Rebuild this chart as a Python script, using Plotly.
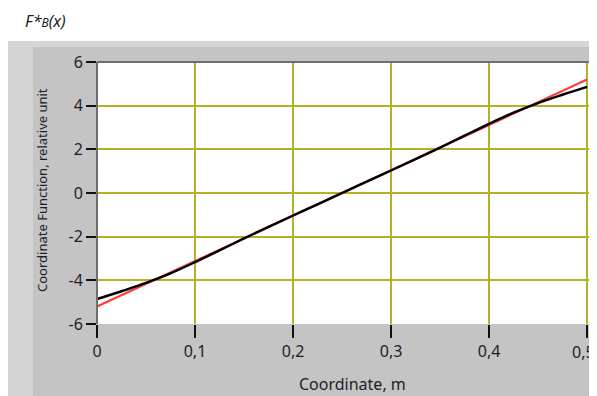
import plotly.graph_objects as go

# Data
x_vals = [0, 0.025, 0.05, 0.075, 0.1, 0.125, 0.15, 0.175, 0.2, 0.225, 0.25,
          0.275, 0.3, 0.325, 0.35, 0.375, 0.4, 0.425, 0.45, 0.475, 0.5]
red_vals = [-5.2, -4.68, -4.16, -3.64, -3.12, -2.6, -2.08, -1.56, -1.04, -0.52, 0,
            0.52, 1.04, 1.56, 2.08, 2.6, 3.12, 3.64, 4.16, 4.68, 5.2]
black_vals = [-4.86, -4.50, -4.12, -3.68, -3.17, -2.63, -2.08, -1.55, -1.03, -0.52, 0,
              0.52, 1.03, 1.55, 2.08, 2.63, 3.17, 3.68, 4.12, 4.50, 4.86]
x_tickvals = [0, 0.1, 0.2, 0.3, 0.4, 0.5]
x_ticktext = ["0", "0,1", "0,2", "0,3", "0,4", "0,5"]
y_tickvals = [-6, -4, -2, 0, 2, 4, 6]
y_ticktext = ["-6", "-4", "-2", "0", "2", "4", "6"]

# page body has an 8px default margin, so work in shifted pixel coords
OFF = 8
W, H = 597 - OFF, 396 - OFF
L, R, T, B = 97 - OFF, 590 - OFF, 62 - OFF, 324 - OFF
pw, ph = R - L, B - T


def xp(px):
    return (px - OFF - L) / pw


def yp(py):
    return (B - (py - OFF)) / ph


FONT = "Segoe UI, Noto Sans, Open Sans, sans-serif"
TXT = "#1c1c2c"
GRID = "rgb(178,178,36)"

fig = go.Figure()
fig.add_trace(go.Scatter(x=x_vals, y=red_vals, mode="lines",
                         line=dict(color="#ff3b3b", width=2.2), showlegend=False))
fig.add_trace(go.Scatter(x=x_vals, y=black_vals, mode="lines", line_shape="spline",
                         line=dict(color="#000000", width=2.4), showlegend=False))

shapes = [
    dict(type="rect", xref="paper", yref="paper", x0=xp(8), x1=xp(610), y0=yp(410), y1=yp(41),
         fillcolor="#c4c4c4", line=dict(width=0), layer="below"),
    dict(type="rect", xref="paper", yref="paper", x0=xp(8), x1=xp(33), y0=yp(410), y1=yp(41),
         fillcolor="#d4d4d4", line=dict(width=0), layer="below"),
    dict(type="rect", xref="paper", yref="paper", x0=xp(8), x1=xp(610), y0=yp(47), y1=yp(41),
         fillcolor="#d6d6d6", line=dict(width=0), layer="below"),
    dict(type="rect", xref="paper", yref="paper", x0=xp(591), x1=xp(610), y0=yp(410), y1=yp(47),
         fillcolor="#b4b4b4", line=dict(width=0), layer="below"),
    dict(type="rect", xref="paper", yref="paper", x0=0, x1=1, y0=0, y1=1,
         fillcolor="#ffffff", line=dict(width=0), layer="below"),
    dict(type="line", xref="paper", yref="paper", x0=0, x1=0, y0=0, y1=1,
         line=dict(color="#6e6e6e", width=2)),
    dict(type="line", xref="paper", yref="paper", x0=0, x1=1, y0=1, y1=1,
         line=dict(color="#6e6e6e", width=2)),
]

annotations = [
    dict(text="<i>F*<span style='font-size:12px'>B</span>(x)</i>", xref="paper", yref="paper",
         x=xp(23), y=yp(21), xanchor="left", yanchor="middle", showarrow=False,
         font=dict(family=FONT, size=16, color=TXT)),
    dict(text="Coordinate Function, relative unit", xref="paper", yref="paper",
         x=xp(42), y=yp(190), xanchor="center", yanchor="middle", textangle=-90, showarrow=False,
         font=dict(family=FONT, size=13, color=TXT)),
    dict(text="Coordinate, m", xref="paper", yref="paper",
         x=xp(352), y=yp(384), xanchor="center", yanchor="middle", showarrow=False,
         font=dict(family=FONT, size=16, color=TXT)),
    # last x tick label, kept inside the page edge
    dict(text=x_ticktext[-1], xref="paper", yref="paper",
         x=xp(597), y=yp(352), xanchor="right", yanchor="middle", showarrow=False,
         font=dict(family=FONT, size=16, color=TXT)),
]

fig.update_layout(
    width=W, height=H,
    margin=dict(l=L, r=W - R, t=T, b=H - B, pad=0),
    paper_bgcolor="#ffffff", plot_bgcolor="#ffffff",
    shapes=shapes, annotations=annotations,
    xaxis=dict(range=[0, 0.503], tickvals=x_tickvals, ticktext=x_ticktext,
               showgrid=True, gridcolor=GRID, gridwidth=2, zeroline=False,
               ticks="outside", ticklen=13, tickwidth=2, tickcolor="#111111",
               tickfont=dict(family=FONT, size=16, color=TXT), showline=False),
    yaxis=dict(range=[-6, 6], tickvals=y_tickvals, ticktext=y_ticktext,
               showgrid=True, gridcolor=GRID, gridwidth=2, zeroline=False,
               ticks="outside", ticklen=10, tickwidth=2, tickcolor="#111111",
               tickfont=dict(family=FONT, size=16, color=TXT), showline=False),
)

fig.write_html("out.html")
